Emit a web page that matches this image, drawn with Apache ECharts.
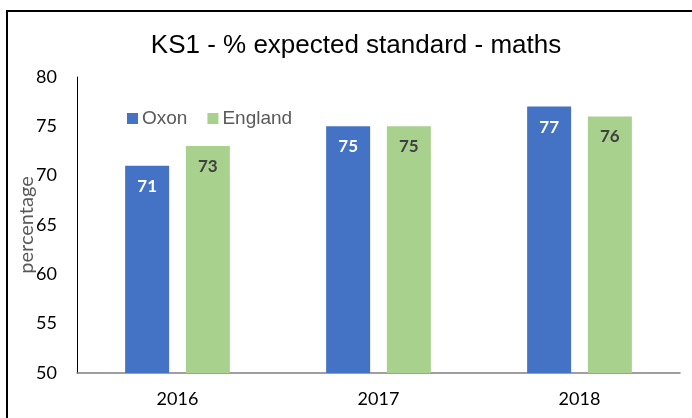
<!DOCTYPE html>
<html><head><meta charset="utf-8">
<script src="https://cdn.jsdelivr.net/npm/echarts@6/dist/echarts.min.js"></script>
<style>html,body{margin:0;padding:0;background:#fff}#c{width:692px;height:418px}</style>
</head><body><div id="c"></div>
<script>
const categories = ['2016', '2017', '2018'];
const oxon = [71, 75, 77];
const england = [73, 75, 76];
const yTicks = [50, 55, 60, 65, 70, 75, 80];

const chart = echarts.init(document.getElementById('c'));
const lblFont = 'Lato, "Open Sans", sans-serif';
chart.setOption({
  animation: false,
  title: {
    text: 'KS1 - % expected standard - maths',
    left: 351, top: 28, textAlign: 'center',
    textStyle: { fontFamily: '"Liberation Sans", Arial, sans-serif', fontSize: 26, fontWeight: 'normal', color: '#000' }
  },
  legend: {
    left: 122, top: 104, itemWidth: 11, itemHeight: 11, itemGap: 20,
    icon: 'rect',
    textStyle: { fontFamily: '"Liberation Sans", Arial, sans-serif', fontSize: 19, color: '#595959', padding: [0,0,0,-1] },
    data: ['Oxon', 'England']
  },
  graphic: [{
    type: 'rect', shape: { x: 7, y: 11, width: 720, height: 440 },
    style: { fill: 'none', stroke: '#000', lineWidth: 2 }, silent: true
  }],
  grid: { left: 77, right: 12, top: 77, bottom: 45, containLabel: false, outerBoundsMode: 'none' },
  xAxis: {
    type: 'category', data: categories,
    axisLine: { lineStyle: { color: '#808080', width: 1.5 } },
    axisTick: { show: false },
    axisLabel: { fontFamily: lblFont, fontSize: 18, color: '#000', margin: 17 }
  },
  yAxis: {
    type: 'value', min: yTicks[0], max: yTicks[yTicks.length - 1], interval: 5,
    name: 'percentage', nameLocation: 'middle', nameGap: 40, nameRotate: 90, nameMoveOverlap: false,
    nameTextStyle: { fontFamily: lblFont, fontSize: 20, color: '#595959' },
    axisLine: { show: true, lineStyle: { color: '#000', width: 1 } },
    axisTick: { show: false },
    splitLine: { show: false },
    axisLabel: { fontFamily: lblFont, fontSize: 18, color: '#000', margin: 20 }
  },
  series: [
    {
      name: 'Oxon', type: 'bar', data: oxon, barWidth: 44, barGap: '38%',
      itemStyle: { color: '#4472C4' },
      label: { show: true, position: 'insideTop', distance: 12, fontFamily: lblFont, fontSize: 17, fontWeight: 'bold', color: '#fff' }
    },
    {
      name: 'England', type: 'bar', data: england, barWidth: 44,
      itemStyle: { color: '#A9D18E' },
      label: { show: true, position: 'insideTop', distance: 12, fontFamily: lblFont, fontSize: 17, fontWeight: 'bold', color: '#404040' }
    }
  ]
});
</script></body></html>
